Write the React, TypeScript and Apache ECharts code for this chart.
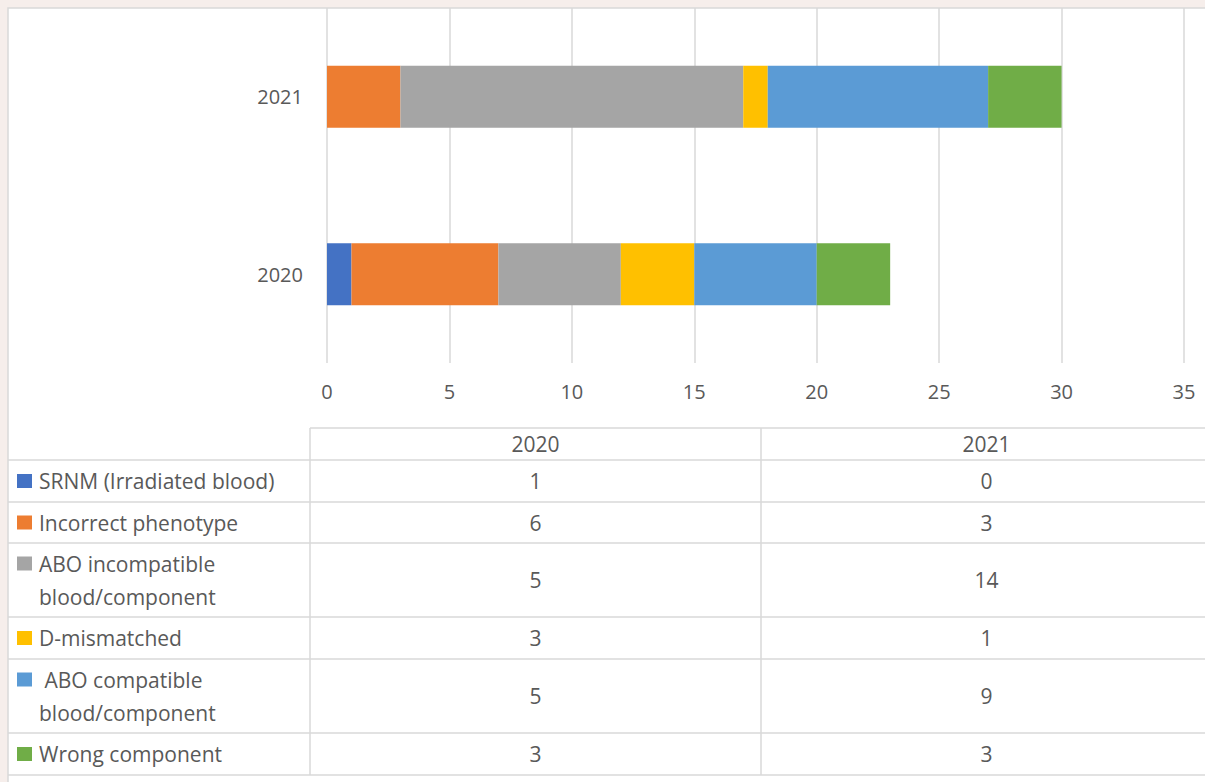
import React, { useEffect, useRef } from "react";
import * as echarts from "echarts";

const categories = ["2020", "2021"];
const seriesNames = [
  "SRNM (Irradiated blood)",
  "Incorrect phenotype",
  "ABO incompatible\nblood/component",
  "D-mismatched",
  " ABO compatible\nblood/component",
  "Wrong component",
];
const seriesColors = ["#4472C4", "#ED7D31", "#A5A5A5", "#FFC000", "#5B9BD5", "#70AD47"];
const srnm = [1, 0];
const incorrectPhenotype = [6, 3];
const aboIncompatible = [5, 14];
const dMismatched = [3, 1];
const aboCompatible = [5, 9];
const wrongComponent = [3, 3];
const seriesValues = [srnm, incorrectPhenotype, aboIncompatible, dMismatched, aboCompatible, wrongComponent];

const W = 1205;
const H = 782;
const FONT = "'Open Sans', sans-serif";
const TXT = "#595959";
const LINE = "#d9d9d9";

export default function App() {
  const ref = useRef<HTMLDivElement>(null);
  useEffect(() => {
    const chart = echarts.init(ref.current!, null, { renderer: "svg" });

    const rowBounds = [460, 502, 543, 617, 659, 733, 775];
    const colX = [8, 310, 761, 1212];
    const headerTop = 428;
    const tf = `21px ${FONT}`;
    const graphics: any[] = [];
    graphics.push({
      type: "rect",
      z: -10,
      shape: { x: 8, y: 8, width: W, height: H },
      style: { fill: "#ffffff", stroke: LINE, lineWidth: 1.5 },
    });
    graphics.push({ type: "line", shape: { x1: colX[1], y1: headerTop, x2: W, y2: headerTop }, style: { stroke: LINE, lineWidth: 1.5 } });
    rowBounds.forEach((y) => {
      graphics.push({ type: "line", shape: { x1: colX[0], y1: y, x2: W, y2: y }, style: { stroke: LINE, lineWidth: 1.5 } });
    });
    [colX[1], colX[2]].forEach((x) => {
      graphics.push({ type: "line", shape: { x1: x, y1: headerTop, x2: x, y2: rowBounds[rowBounds.length - 1] }, style: { stroke: LINE, lineWidth: 1.5 } });
    });
    categories.forEach((c, i) => {
      graphics.push({
        type: "text",
        x: (colX[i + 1] + colX[i + 2]) / 2,
        y: (headerTop + rowBounds[0]) / 2,
        style: { text: c, fill: TXT, font: tf, align: "center", verticalAlign: "middle" },
      });
    });
    seriesNames.forEach((name, r) => {
      const y0 = rowBounds[r];
      const y1 = rowBounds[r + 1];
      const lines = name.split("\n");
      const lh = 33;
      const firstY = (y0 + y1) / 2 - ((lines.length - 1) * lh) / 2;
      graphics.push({
        type: "rect",
        shape: { x: 17, y: firstY - 7, width: 15, height: 14 },
        style: { fill: seriesColors[r] },
      });
      lines.forEach((ln, k) => {
        graphics.push({
          type: "text",
          x: 39,
          y: firstY + k * lh,
          style: { text: ln, fill: TXT, font: tf, align: "left", verticalAlign: "middle" },
        });
      });
      categories.forEach((c, i) => {
        graphics.push({
          type: "text",
          x: (colX[i + 1] + colX[i + 2]) / 2,
          y: (y0 + y1) / 2,
          style: { text: String(seriesValues[r][i]), fill: TXT, font: tf, align: "center", verticalAlign: "middle" },
        });
      });
    });

    chart.setOption({
      animation: false,
      backgroundColor: "#f6eeeb",
      grid: { left: 327, right: W - 1184, top: 8, bottom: H - 363, containLabel: false },
      xAxis: {
        type: "value",
        min: 0,
        max: 35,
        interval: 5,
        axisLine: { show: false },
        axisTick: { show: false },
        splitLine: { show: true, lineStyle: { color: LINE, width: 1.5 } },
        axisLabel: { color: TXT, fontFamily: FONT, fontSize: 20, margin: 18 },
      },
      yAxis: {
        type: "category",
        data: categories,
        axisLine: { show: false },
        axisTick: { show: false },
        axisLabel: { color: TXT, fontFamily: FONT, fontSize: 20, margin: 24 },
      },
      series: seriesNames.map((n, i) => ({
        type: "bar",
        name: n,
        stack: "total",
        data: seriesValues[i],
        barWidth: 62,
        itemStyle: { color: seriesColors[i] },
      })),
      graphic: graphics,
    });
    return () => chart.dispose();
  }, []);
  return <div ref={ref} style={{ position: "fixed", left: 0, top: 0, width: W, height: H }} />;
}
